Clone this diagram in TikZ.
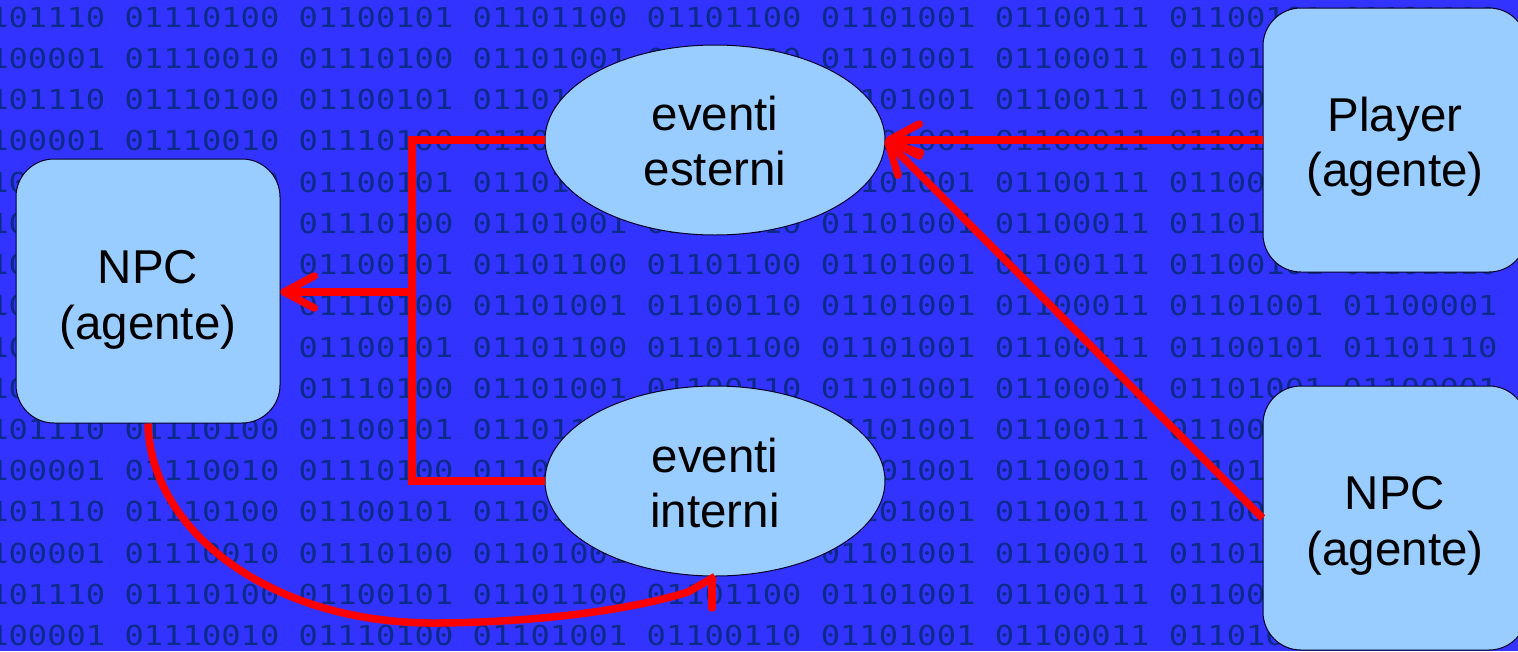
\documentclass[tikz,border=0pt]{standalone}
\usepackage{fontspec}
\setmainfont{Liberation Sans}
\newfontfamily\binfont{DejaVu Sans Mono}
\usetikzlibrary{shapes.geometric,arrows.meta}
\definecolor{bgblue}{HTML}{3333FF}
\definecolor{binblue}{HTML}{0C2A8A}
\definecolor{nodeblue}{HTML}{99CCFF}
\definecolor{linkred}{HTML}{FF0000}
\newcommand{\lowered}[2]{\raisebox{#1}[40pt][40pt]{\parbox{200pt}{\centering #2}}}
\tikzset{
  x=1pt,y=-1pt,
  agentbox/.style={draw=black!85!blue,line width=1pt,fill=nodeblue,rounded corners=38pt,minimum width=264pt,minimum height=264pt,align=center,font=\fontsize{47.5}{55.5}\selectfont,inner sep=0pt},
  eventell/.style={draw=black!85!blue,line width=1pt,fill=nodeblue,ellipse,minimum width=340pt,minimum height=190pt,align=center,font=\fontsize{47.5}{55.5}\selectfont,inner sep=0pt},
  binrow/.style={anchor=base west,inner sep=0pt,text=binblue,font=\binfont\fontsize{27.5}{30}\selectfont,xscale=1.168},
  link/.style={draw=linkred,line width=7.5pt,line join=miter},
  linkarrow/.style={link,-{Straight Barb[length=30pt,width=32pt,line width=7.5pt,round]}},
  roundlink/.style={link,line cap=round},
}
\begin{document}
\begin{tikzpicture}
\useasboundingbox (0,0) rectangle (1518,651);
\fill[bgblue] (0,0) rectangle (1518,651);
\begin{scope}
\clip (0,0) rectangle (1518,651);
\foreach \r in {0,...,15}{
  \pgfmathsetmacro{\yy}{27.3+41.22*\r}
  \pgfmathtruncatemacro{\odd}{mod(\r,2)}
  \ifnum\odd=0
    \node[binrow] (row\r) at (-49.6,\yy) {01101110 01110100 01100101 01101100 01101100 01101001 01100111 01100101 01101110};
  \else
    \node[binrow] (row\r) at (-49.6,\yy) {01100001 01110010 01110100 01101001 01100110 01101001 01100011 01101001 01100001};
  \fi
}
\end{scope}
\coordinate (junction) at (412,292);
\node[agentbox] (npcl) at (148,291) {\lowered{-15pt}{NPC\\(agente)}};
\node[agentbox] (player) at (1395,140) {\lowered{-13pt}{Player\\(agente)}};
\node[agentbox] (npcr) at (1395,518) {\lowered{-14pt}{NPC\\(agente)}};
\node[eventell] (est) at (715,140) {\lowered{-7pt}{eventi\\esterni}};
\node[eventell] (int) at (715,481) {\lowered{-8pt}{eventi\\interni}};
\draw[link] (est.west) -- (412,140) -- (junction);
\draw[link] (int.west) -- (412,481) -- (junction);
\draw[linkarrow] (junction) -- (npcl.east |- junction);
\draw[linkarrow] (player.west) -- (est.east);
\draw[linkarrow] (npcr.west) -- (est.east);
\coordinate (curvemid) at (440,623);
\coordinate (barbjoin) at (688,592);
\coordinate (barbend) at (712,608);
\draw[link] (npcl.south) .. controls (150,530) and (270,625) .. (curvemid) .. controls (540,622) and (630,610) .. (barbjoin) -- (int.south);
\draw[roundlink] (int.south) ++(-3,3) -- (barbend);
\end{tikzpicture}
\end{document}
